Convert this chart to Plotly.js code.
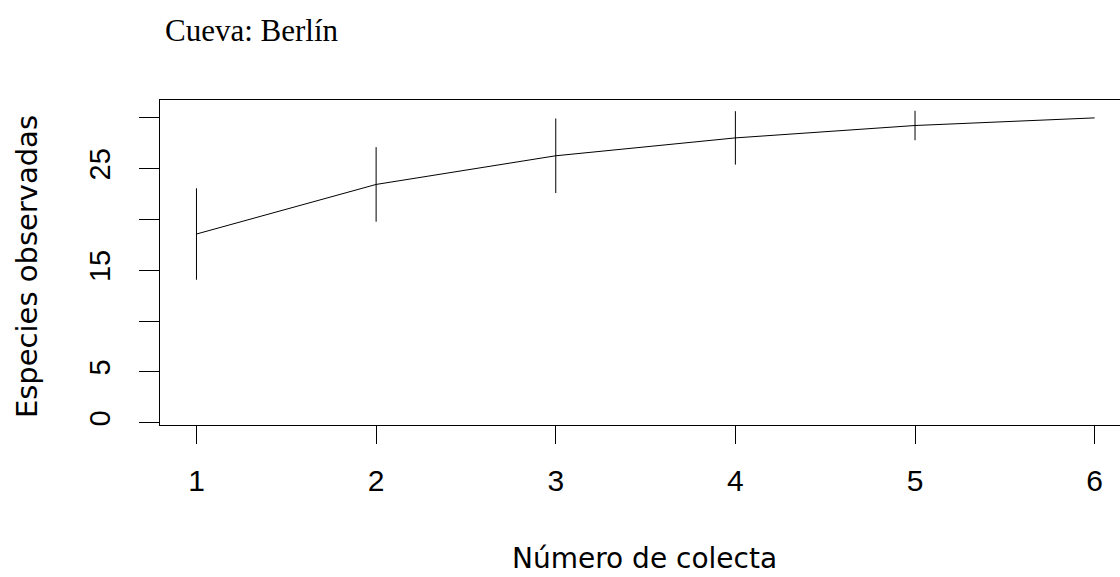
<!DOCTYPE html>
<html>
<head>
<meta charset="utf-8">
<script src="https://cdn.plot.ly/plotly-3.0.1.min.js"></script>
<style>html,body{margin:0;padding:0;background:#fff;}#chart{width:1120px;height:577px;}</style>
</head>
<body>
<div id="chart"></div>
<script>
// Species accumulation: number of collections vs observed species
var collections = [1, 2, 3, 4, 5, 6];
var speciesObserved = [18.57, 23.45, 26.27, 28.03, 29.25, 30.0];
var ciHalfWidth = [4.5, 3.67, 3.67, 2.63, 1.45, 0];
var yTickVals = [0, 5, 10, 15, 20, 25, 30];
var yTickText = ['0', '5', '', '15', '', '25', ''];
var xTickVals = [1, 2, 3, 4, 5, 6];
var xTickText = ['1', '2', '3', '4', '5', '6'];

var trace = {
  x: collections,
  y: speciesObserved,
  type: 'scatter',
  mode: 'lines',
  line: {color: '#000', width: 1},
  error_y: {type: 'data', array: ciHalfWidth, symmetric: true, width: 0, thickness: 1, color: '#000'},
  hoverinfo: 'x+y'
};

var sans = 'DejaVu Sans, Arial, sans-serif';
var tickFont = 'Liberation Sans, Arial, sans-serif';
var layout = {
  width: 1120, height: 577,
  margin: {l: 160, r: 0, t: 100, b: 152, pad: 0},
  paper_bgcolor: '#fff', plot_bgcolor: '#fff',
  showlegend: false,
  title: {
    text: 'Cueva: Berlín',
    font: {family: 'Liberation Serif, Times New Roman, serif', size: 31, color: '#000'},
    xref: 'container', yref: 'container',
    x: 165 / 1120, xanchor: 'left',
    y: 1 - 30 / 577, yanchor: 'middle'
  },
  xaxis: {
    range: [0.797, 6.141],
    tickvals: xTickVals, ticktext: xTickText,
    ticks: 'outside', ticklen: 18, tickwidth: 1, tickcolor: '#000',
    showline: true, linecolor: '#000', linewidth: 1, mirror: true,
    showgrid: false, zeroline: false,
    tickfont: {family: tickFont, size: 30, color: '#000'},
    ticklabelstandoff: 11
  },
  yaxis: {
    range: [-0.226, 31.76],
    tickvals: yTickVals, ticktext: yTickText,
    ticks: 'outside', ticklen: 20, tickwidth: 1, tickcolor: '#000',
    showline: true, linecolor: '#000', linewidth: 1, mirror: false,
    showgrid: false, zeroline: false,
    tickangle: -90,
    tickfont: {family: tickFont, size: 29, color: '#000'},
    ticklabelstandoff: 17
  },
  annotations: [
    {text: 'Número de colecta', xref: 'paper', yref: 'paper', x: 0.505, y: -0.41,
     xanchor: 'center', yanchor: 'middle', showarrow: false,
     font: {family: sans, size: 28, color: '#000'}},
    {text: 'Especies observadas', xref: 'paper', yref: 'paper', x: -0.1379, y: 0.4877,
     xanchor: 'center', yanchor: 'middle', textangle: -90, showarrow: false,
     font: {family: sans, size: 29, color: '#000'}}
  ]
};

Plotly.newPlot('chart', [trace], layout, {staticPlot: true, displayModeBar: false});
</script>
</body>
</html>
